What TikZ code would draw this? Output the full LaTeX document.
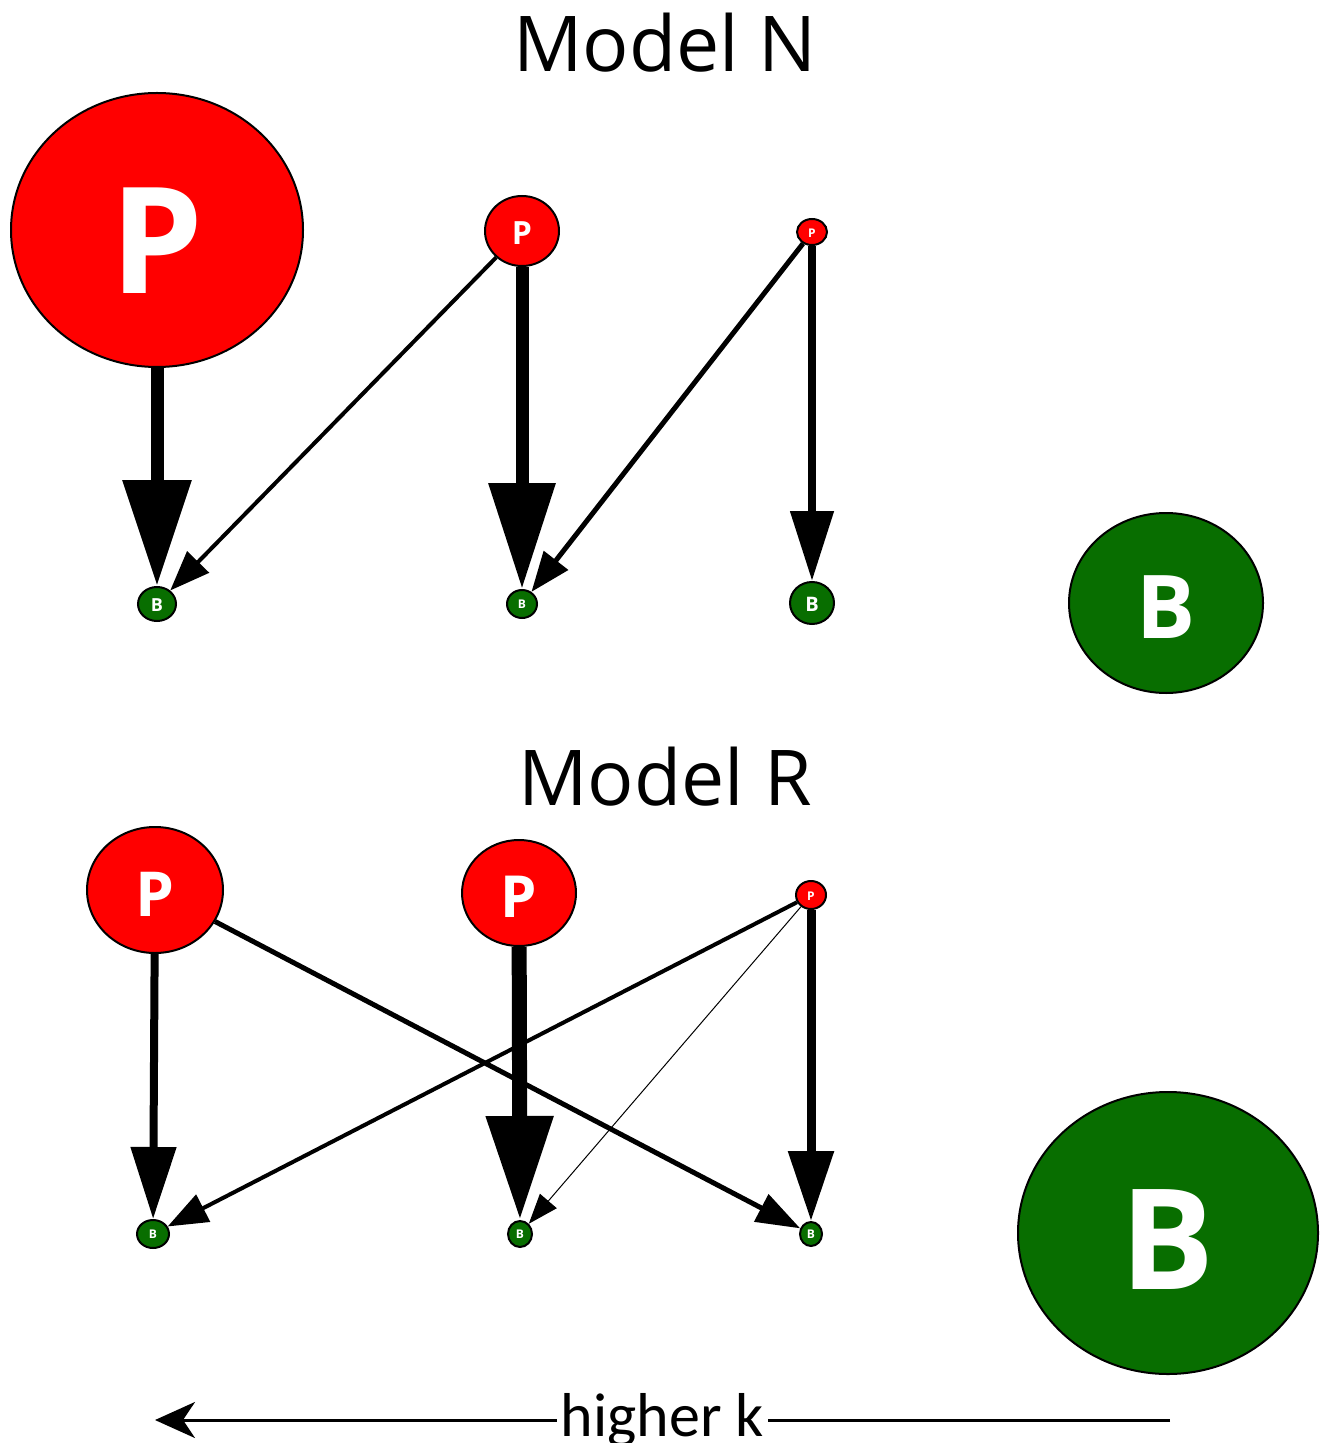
\documentclass[tikz,border=0pt]{standalone}
\usepackage{fontspec}
\setmainfont{Carlito}
\newfontfamily\lblfont{Open Sans}
\usetikzlibrary{shapes.geometric,arrows.meta}
\definecolor{pred}{RGB}{255,0,0}
\definecolor{bgreen}{RGB}{8,110,0}

\begin{document}
\begin{tikzpicture}[x=0.5pt,y=-0.5pt,
title/.style={font=\lblfont\fontsize{38.5}{38.5}\selectfont, anchor=base},
pnode/.style n args={3}{ellipse, draw, line width=1pt, fill=pred, text=white,
  inner sep=0pt, minimum width=#1pt, minimum height=#2pt,
  text height=#3pt*0.86, text depth=0pt,
  font=\lblfont\bfseries\fontsize{#3}{#3}\selectfont},
bnode/.style n args={3}{pnode={#1}{#2}{#3}, fill=bgreen,
  text height=#3pt*0.8},
link/.style n args={3}{line width=#1pt, -{Triangle[length=#2pt,width=#3pt]}}]
\useasboundingbox (0,0) rectangle (1325,1443);

\node[title] (modelN) at (665,72) {Model N};
\node[pnode={146}{137}{74}] (pN1) at (157,230) {P};
\node[pnode={37}{35}{16}] (pN2) at (522,231) {P};
\node[pnode={15}{13}{6}] (pN3) at (812,232) {P};
\node[bnode={19}{17}{9}] (bN1) at (157,604) {B};
\node[bnode={15}{14}{6}] (bN2) at (522,604) {B};
\node[bnode={22}{21}{10}] (bN3) at (812,603) {B};
\node[bnode={97}{90}{44}] (bN4) at (1166,603) {B};

\draw[link={6.5}{53}{33}] (pN1) -- (bN1);
\draw[link={2}{20}{15}] (pN2) -- (bN1);
\draw[link={6.5}{53}{32}] (pN2) -- (bN2);
\draw[link={2.5}{20}{15}] (pN3) -- (bN2);
\draw[link={4}{35}{21}] (pN3) -- (bN3);

\node[title] (modelR) at (665,805) {Model R};
\node[pnode={68}{63}{31}] (pR1) at (155,890) {P};
\node[pnode={57}{53}{29}] (pR2) at (519,893) {P};
\node[pnode={15}{14}{6}] (pR3) at (811,895) {P};
\node[bnode={16}{14}{6}] (bR1) at (153,1234) {B};
\node[bnode={12}{13}{6}] (bR2) at (520,1234) {B};
\node[bnode={11}{12}{6}] (bR3) at (811,1234) {B};
\node[bnode={150}{141}{70}] (bR4) at (1168,1233) {B};

\draw[link={4}{36}{22}] (pR1) -- (bR1);
\draw[link={2.5}{22}{15}] (pR1) -- (bR3);
\draw[link={2}{20}{15}] (pR3) -- (bR1);
\draw[link={0.5}{15}{11}] (pR3) -- (bR2);
\draw[link={7.5}{52}{32}] (pR2) -- (bR2);
\draw[link={4.5}{35}{22}] (pR3) -- (bR3);

\coordinate (kR) at (1170,1420);
\coordinate (kL) at (155,1420);
\draw[line width=1.5pt, -{Stealth[length=20pt,width=18pt,inset=6pt]}] (kR) --
  node[fill=white, inner sep=2pt, font=\fontsize{31}{31}\selectfont] (hk) {higher k} (kL);
\end{tikzpicture}
\end{document}
